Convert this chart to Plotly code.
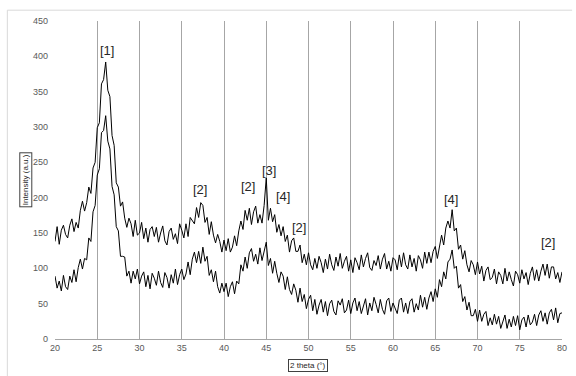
import plotly.graph_objects as go

two_theta = [20 + 0.25 * i for i in range(241)]

upper = [
    138, 159, 134, 154, 161, 148, 143, 161, 170, 152, 165, 157,
    182, 195, 181, 193, 215, 206, 242, 250, 299, 306, 361, 367,
    392, 352, 343, 288, 274, 221, 215, 188, 194, 171, 158, 171,
    163, 145, 168, 147, 150, 165, 142, 157, 137, 155, 159, 145,
    158, 137, 150, 160, 139, 133, 152, 157, 141, 149, 135, 163,
    154, 143, 163, 145, 172, 168, 163, 186, 172, 193, 189, 165,
    172, 148, 166, 147, 136, 148, 138, 123, 140, 125, 142, 123,
    130, 146, 132, 153, 167, 155, 182, 168, 185, 162, 180, 188,
    164, 176, 164, 189, 228, 168, 185, 166, 176, 151, 162, 146,
    159, 138, 147, 123, 139, 143, 124, 124, 133, 108, 120, 105,
    122, 105, 98, 114, 100, 117, 108, 94, 113, 99, 120, 105,
    97, 116, 103, 121, 100, 110, 117, 96, 112, 94, 115, 108,
    98, 119, 102, 114, 122, 101, 97, 111, 104, 118, 99, 113,
    121, 99, 110, 96, 115, 112, 98, 119, 102, 122, 105, 99,
    119, 102, 114, 96, 118, 112, 100, 123, 107, 123, 108, 124,
    131, 114, 132, 147, 133, 157, 167, 157, 183, 153, 157, 127,
    133, 113, 125, 105, 95, 111, 105, 91, 109, 92, 103, 82,
    97, 102, 84, 87, 99, 78, 95, 90, 78, 100, 82, 95,
    84, 75, 96, 91, 79, 98, 85, 94, 77, 93, 102, 83,
    98, 82, 96, 106, 90, 106, 86, 102, 102, 85, 94, 80,
    95,
]

lower = [
    89, 72, 82, 68, 90, 74, 70, 89, 80, 98, 81, 101,
    113, 99, 114, 112, 143, 138, 180, 189, 232, 241, 292, 295,
    316, 280, 269, 216, 204, 159, 153, 117, 117, 116, 89, 96,
    79, 96, 85, 99, 78, 89, 95, 74, 90, 71, 93, 86,
    76, 96, 80, 73, 94, 87, 72, 91, 79, 99, 77, 91,
    99, 84, 92, 109, 91, 113, 123, 108, 124, 107, 130, 110,
    117, 90, 98, 81, 96, 74, 65, 79, 67, 79, 60, 74,
    81, 64, 82, 78, 105, 96, 116, 100, 122, 128, 110, 120,
    106, 129, 111, 125, 137, 104, 114, 93, 110, 93, 80, 95,
    89, 70, 88, 70, 63, 78, 69, 52, 72, 53, 63, 43,
    56, 62, 40, 56, 35, 48, 56, 38, 53, 33, 50, 55,
    39, 34, 54, 48, 57, 37, 41, 55, 36, 51, 58, 40,
    53, 36, 48, 57, 34, 51, 40, 59, 49, 37, 56, 42,
    35, 54, 58, 39, 51, 43, 36, 55, 58, 38, 51, 36,
    53, 57, 38, 50, 41, 62, 45, 59, 42, 58, 67, 53,
    71, 59, 84, 74, 95, 85, 109, 113, 126, 100, 103, 72,
    77, 53, 60, 41, 52, 33, 33, 42, 25, 41, 25, 35,
    39, 19, 30, 20, 35, 21, 32, 15, 26, 34, 15, 28,
    17, 32, 19, 33, 13, 27, 31, 17, 34, 20, 24, 35,
    19, 34, 40, 25, 37, 21, 37, 42, 27, 44, 23, 36,
    37,
]

peak_labels = ["[1]", "[2]", "[2]", "[3]", "[4]", "[2]", "[4]", "[2]"]
peak_x = [26.1, 37.1, 42.8, 45.3, 47.0, 48.9, 66.9, 78.4]
peak_y = [408, 212, 216, 239, 201, 158, 197, 136]

x_ticks = list(range(20, 81, 5))
y_ticks = list(range(0, 451, 50))

fig = go.Figure()
for series in (upper, lower):
    fig.add_trace(go.Scatter(
        x=two_theta, y=series, mode="lines",
        line=dict(color="black", width=1),
        showlegend=False, hoverinfo="skip",
    ))

for lab, lx, ly in zip(peak_labels, peak_x, peak_y):
    fig.add_annotation(
        x=lx, y=ly, text=lab, showarrow=False,
        font=dict(family="Liberation Sans", size=13, color="#262626"),
        xanchor="center", yanchor="middle",
    )

fig.add_annotation(
    xref="paper", yref="paper", x=-0.0586, y=0.5, text="Intensity (a.u.)",
    textangle=-90, showarrow=False,
    font=dict(family="Liberation Sans", size=8, color="#262626"),
    bordercolor="#404040", borderwidth=1, borderpad=1,
    xanchor="center", yanchor="middle",
)
fig.add_annotation(
    xref="paper", yref="paper", x=0.499, y=-0.082, text="2 theta (°)",
    showarrow=False,
    font=dict(family="Liberation Sans", size=8, color="#262626"),
    bordercolor="#404040", borderwidth=1, borderpad=1,
    xanchor="center", yanchor="middle",
)

# outer chart frame (top and left edges visible)
fig.add_shape(type="line", xref="paper", yref="paper",
              x0=-0.094, x1=1.02, y0=1.034, y1=1.034,
              line=dict(color="#d9d9d9", width=1))
fig.add_shape(type="line", xref="paper", yref="paper",
              x0=-0.094, x1=-0.094, y0=1.034, y1=-0.12,
              line=dict(color="#d9d9d9", width=1))

fig.update_xaxes(
    range=[20, 80], tickvals=x_ticks, ticktext=[str(v) for v in x_ticks],
    showgrid=True, gridcolor="#a6a6a6", gridwidth=1.3,
    showline=True, linecolor="#a6a6a6", linewidth=1, zeroline=False,
    ticks="", tickfont=dict(family="Liberation Sans", size=9, color="#595959"),
)
fig.update_yaxes(
    range=[0, 450], tickvals=y_ticks, ticktext=[str(v) for v in y_ticks],
    showgrid=False, showline=False, zeroline=False, ticks="",
    ticklabelstandoff=6,
    tickfont=dict(family="Liberation Sans", size=9, color="#595959"),
)
fig.update_layout(
    width=576, height=376,
    margin=dict(l=55, r=9, t=21, b=37),
    paper_bgcolor="white", plot_bgcolor="white",
)

fig.write_html("out.html")
